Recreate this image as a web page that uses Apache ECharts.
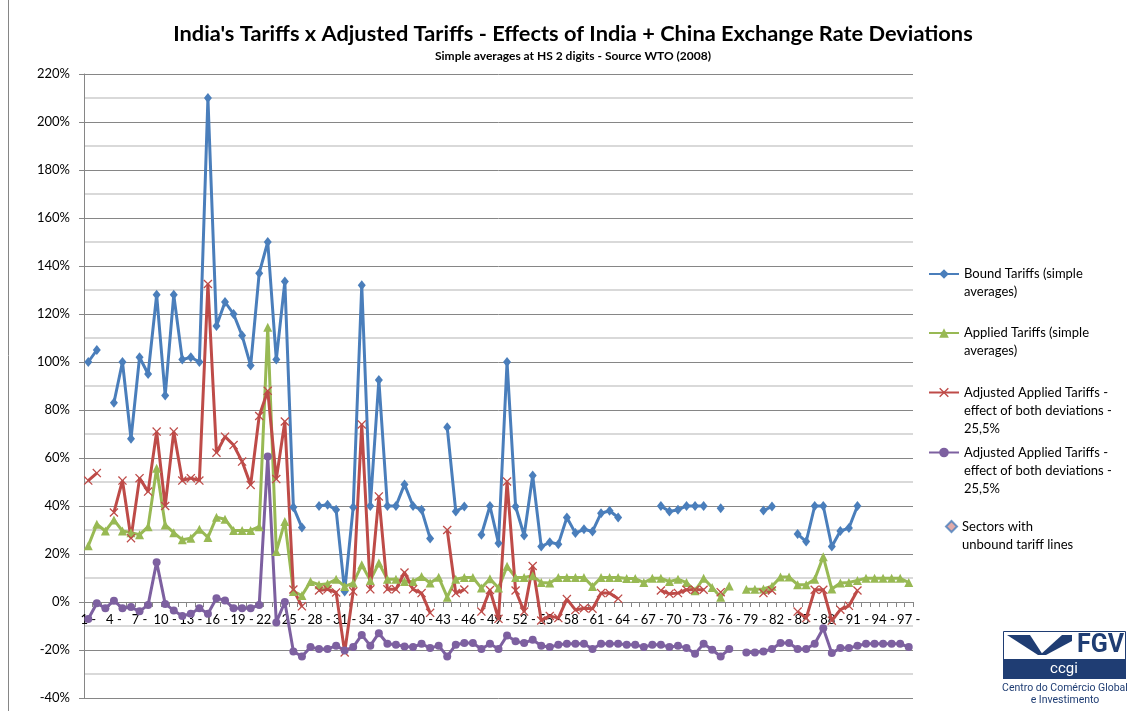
<!DOCTYPE html>
<html>
<head>
<meta charset="utf-8">
<script src="https://cdn.jsdelivr.net/npm/echarts@6/dist/echarts.min.js"></script>
<style>
html, body { margin: 0; padding: 0; background: #fff; }
#chart { width: 1129px; height: 711px; }
</style>
</head>
<body>
<div id="chart"></div>
<script>
// HS 2 digit chapters (x axis)
var hsCodes = ['1 -','2 -','3 -','4 -','5 -','6 -','7 -','8 -','9 -','10 -','11 -','12 -','13 -','14 -','15 -','16 -','17 -','18 -','19 -','20 -',
	'21 -','22 -','23 -','24 -','25 -','26 -','27 -','28 -','29 -','30 -','31 -','32 -','33 -','34 -','35 -','36 -','37 -','38 -','39 -','40 -',
	'41 -','42 -','43 -','44 -','45 -','46 -','47 -','48 -','49 -','50 -','51 -','52 -','53 -','54 -','55 -','56 -','57 -','58 -','59 -','60 -',
	'61 -','62 -','63 -','64 -','65 -','66 -','67 -','68 -','69 -','70 -','71 -','72 -','73 -','74 -','75 -','76 -','77 -','78 -','79 -','80 -',
	'81 -','82 -','83 -','84 -','85 -','86 -','87 -','88 -','89 -','90 -','91 -','92 -','93 -','94 -','95 -','96 -','97 -'];

// Werte in % (null = keine Daten)
var boundTariffs = [100,105,null,83,100,68,102,95,128,86, 128,101,102,100,210,115,125,120,111,98.5,
	137,150,101,133.5,39.5,31,null,40,40.5,38.4, 4.4,39.5,132,40,92.5,40,40,49,40,38.4,
	26.5,null,72.8,37.7,39.8,null,28,40,24.5,100, 39.8,27.7,52.7,23.1,24.9,24.1,35.2,28.7,30.3,29.4,
	37,38,35.2,null,null,null,null,40,37.7,38.4, 40,40,40,null,39.1,null,null,null,null,38.1,
	39.8,null,null,28.3,25.2,40,40,23.1,29.6,30.8, 40,null,null,null,null,null,null];

var appliedTariffs = [23.4,32.4,29.6,34.2,29.6,28.9,28,31.4,55.7,32.1, 28.9,25.9,26.6,30.3,26.9,35.3,34.5,29.8,29.8,29.8,
	31.4,114.5,21,33.5,4.4,2.7,8.5,7.2,7.6,9.5, 6.5,7.9,15.5,9,16.2,9.5,9.5,8.5,8.5,10.6,
	7.9,10.3,2,9.5,10.2,10.2,5.8,9.7,5.8,14.9, 10.2,10.2,10.9,8.1,7.9,10.2,10.2,10.2,10.2,6.5,
	10.2,10.2,10.2,9.8,9.8,8.1,9.9,9.9,8.5,9.5, 8.1,4.7,9.9,6,2,6.7,null,5.3,5.3,5.4,
	6.6,10.4,10.4,7.2,7.2,9.5,18.9,5.4,7.9,8.1, 9,9.9,9.9,9.9,9.9,9.9,8.1];

var adjustedRed = [50.6,53.7,null,37.3,50.6,26.6,51.6,46,71,40, 71,50.6,51.6,50.6,132.5,62.2,68.9,65.4,58.5,48.8,
	77.5,88,51.2,75.2,5.2,-1.8,null,4.8,5.3,4, -21,4.4,74,5.3,44,5.3,5.3,12.3,5.3,3.7,
	-4.5,null,30,3.7,5.2,null,-4,5,-7,50.2, 4.8,-4,15,-7.7,-5.8,-6.7,1.2,-3.3,-2.6,-2.8,
	3.7,3.7,1.4,null,null,null,null,4.8,3.4,3.7, 5.1,5.1,5.1,null,4.1,null,null,null,null,3.7,
	4.8,null,null,-4,-6.7,5.1,5.1,-7.8,-3.2,-1.6, 4.8,null,null,null,null,null,null];

var adjustedPurple = [-7.1,-0.5,-2.6,0.5,-2.6,-2.1,-3.9,-1.2,16.6,-0.8, -3.5,-5.8,-4.9,-2.6,-4.9,1.6,0.6,-2.6,-2.6,-2.6,
	-1.2,60.6,-8.5,0,-20.6,-22.7,-18.8,-19.6,-19.6,-18.2, -20.2,-18.8,-13.7,-18.2,-13,-17.4,-17.8,-18.5,-18.8,-17.4,
	-19.2,-18.2,-22.7,-17.8,-17.1,-17.1,-19.6,-17.4,-19.6,-14, -16.4,-17.1,-15.7,-18.2,-18.8,-17.8,-17.4,-17.4,-17.4,-19.6,
	-17.4,-17.4,-17.4,-17.8,-17.8,-18.8,-17.8,-17.8,-18.8,-18.2, -19.2,-21.6,-17.4,-19.9,-22.7,-19.6,null,-21,-21,-20.6,
	-19.6,-17.1,-17.1,-19.6,-19.6,-17.4,-10.9,-21.3,-19.2,-19.2, -18.2,-17.4,-17.4,-17.4,-17.4,-17.4,-18.8];

var unboundSectors = [];

var yTicks = [-40, 220, 20];

// Legendentexte (Zeilenumbrüche wie im Original)
var legendLines = [
	['Bound Tariffs (simple', 'averages)'],
	['Applied Tariffs (simple', 'averages)'],
	['Adjusted Applied Tariffs -', 'effect of both deviations -', '25,5%'],
	['Adjusted Applied Tariffs -', 'effect of both deviations -', '25,5%'],
	['Sectors with', 'unbound tariff lines']
];

var FONT = 'Lato';
var LH = 18.3;

// Plotbereich: oben 74, unten 13 -> Höhe 624 px
var GRID_TOP = 74, GRID_BOTTOM = 13, PLOT_H = 711 - GRID_TOP - GRID_BOTTOM;

// Seriennamen müssen eindeutig sein -> beim zweiten "Adjusted" ein unsichtbares Zeichen
var seriesNames = legendLines.map(function (l, i) {
	return l.join(' ') + (i === 3 ? '\u200b' : '');
});

var crossPath = 'path://M0,1 L1,0 L5,4 L9,0 L10,1 L6,5 L10,9 L9,10 L5,6 L1,10 L0,9 L4,5 Z';

function makeLegend(i, firstLineY, left, w, h) {
	var n = legendLines[i].length;
	return {
		data: [seriesNames[i]],
		orient: 'vertical',
		left: left,
		top: firstLineY - (2 * n - 1) * LH / 2,
		padding: 0,
		itemWidth: w,
		itemHeight: h,
		selectedMode: false,
		textStyle: { fontFamily: FONT, fontSize: 13, lineHeight: LH, color: '#000' },
		formatter: function () {
			// Leerzeilen davor, damit das Symbol auf Höhe der ersten Zeile sitzt
			var pad = [];
			for (var k = 1; k < n; k++) pad.push('');
			return pad.concat(legendLines[i]).join('\n');
		}
	};
}

function lineSeries(idx, data, color, symbol, size) {
	return {
		name: seriesNames[idx],
		type: 'line',
		data: data,
		connectNulls: false,
		showSymbol: true,
		showAllSymbol: true,
		symbol: symbol,
		symbolSize: size,
		lineStyle: { color: color, width: 3 },
		itemStyle: { color: color },
		emphasis: { disabled: true }
	};
}

function GenerateChart() {
	var chart = echarts.init(document.getElementById('chart'), null, { renderer: 'canvas' });

	// x-Achse auf die 0%-Linie schieben (onZero greift hier nicht)
	var zeroOffset = -PLOT_H * (0 - yTicks[0]) / (yTicks[1] - yTicks[0]);

	chart.setOption({
		animation: false,
		backgroundColor: '#fff',
		title: [
			{
				text: "India's Tariffs x Adjusted Tariffs - Effects of India + China Exchange Rate Deviations",
				left: 573, top: 23, padding: 0, textAlign: 'center',
				textStyle: { fontFamily: FONT, fontWeight: 'bold', fontSize: 21.8, color: '#000' }
			},
			{
				text: 'Simple averages at HS 2 digits - Source WTO (2008)',
				left: 573, top: 50, padding: 0, textAlign: 'center',
				textStyle: { fontFamily: FONT, fontWeight: 'bold', fontSize: 12, color: '#000' }
			}
		],
		legend: [
			makeLegend(0, 274, 928, 30, 12),
			makeLegend(1, 333, 928, 30, 12),
			makeLegend(2, 392.5, 928, 30, 12),
			makeLegend(3, 452.5, 928, 30, 12),
			makeLegend(4, 526.5, 945, 11, 11)
		],
		grid: { left: 84, right: 216, top: GRID_TOP, bottom: GRID_BOTTOM, outerBoundsMode: 'none', containLabel: false },
		xAxis: {
			type: 'category',
			data: hsCodes,
			boundaryGap: true,
			position: 'bottom',
			offset: zeroOffset,
			axisLine: { onZero: false, lineStyle: { color: '#868686', width: 1 } },
			axisTick: { show: true, interval: 0, length: 5, lineStyle: { color: '#868686' } },
			axisLabel: { interval: 2, margin: 11, fontFamily: FONT, fontSize: 13, color: '#000' },
			splitLine: { show: false }
		},
		yAxis: {
			type: 'value',
			min: yTicks[0], max: yTicks[1], interval: yTicks[2],
			axisLine: { show: true, lineStyle: { color: '#868686' } },
			axisTick: { show: true, length: 5, lineStyle: { color: '#868686' } },
			axisLabel: { formatter: '{value}%', margin: 14, fontFamily: FONT, fontSize: 13, color: '#000' },
			splitLine: { show: true, lineStyle: { color: '#868686', width: 1 } },
			minorTick: { show: false, splitNumber: 2 },
			minorSplitLine: { show: true, lineStyle: { color: '#d9d9d9', width: 2 } }
		},
		series: [
			lineSeries(0, boundTariffs, '#4a7ebb', 'diamond', [8, 10]),
			lineSeries(1, appliedTariffs, '#98b954', 'triangle', 9),
			lineSeries(2, adjustedRed, '#be4b48', crossPath, 9),
			lineSeries(3, adjustedPurple, '#7d60a0', 'circle', 8),
			{
				name: seriesNames[4],
				type: 'scatter',
				data: unboundSectors,
				symbol: 'diamond',
				symbolSize: 10,
				itemStyle: { color: '#d99694', borderColor: '#4a7ebb', borderWidth: 1 }
			}
		],
		graphic: [
			// Rahmen links
			{ type: 'line', shape: { x1: 8.5, y1: 0, x2: 8.5, y2: 711 }, style: { stroke: '#868686', lineWidth: 1 } },
			// FGV Logo
			{ type: 'rect', shape: { x: 1003.5, y: 631.5, width: 122, height: 28 }, style: { fill: '#fff', stroke: '#1f3d73', lineWidth: 1 } },
			{ type: 'rect', shape: { x: 1003, y: 659, width: 123, height: 20 }, style: { fill: '#1f3d73' } },
			{ type: 'polygon', shape: { points: [[1007, 635], [1030, 635], [1043, 655], [1038, 655]] }, style: { fill: '#1f3d73' } },
			{ type: 'polygon', shape: { points: [[1040, 655], [1062, 635], [1072, 635], [1072, 641], [1046, 655]] }, style: { fill: '#1f3d73' } },
			{ type: 'text', left: 1077, top: 633, style: { text: 'FGV', font: 'bold 25px Roboto', fill: '#1f3d73' } },
			{ type: 'text', x: 1064, y: 669, style: { text: 'ccgi', font: '15px Roboto', fill: '#fff', align: 'center', verticalAlign: 'middle' } },
			{ type: 'text', x: 1065, y: 688, style: { text: 'Centro do Comércio Global', font: '10.5px Roboto', fill: '#1f3d73', align: 'center', verticalAlign: 'middle' } },
			{ type: 'text', x: 1065, y: 700, style: { text: 'e Investimento', font: '10.5px Roboto', fill: '#1f3d73', align: 'center', verticalAlign: 'middle' } }
		]
	});
}

GenerateChart();
</script>
</body>
</html>
